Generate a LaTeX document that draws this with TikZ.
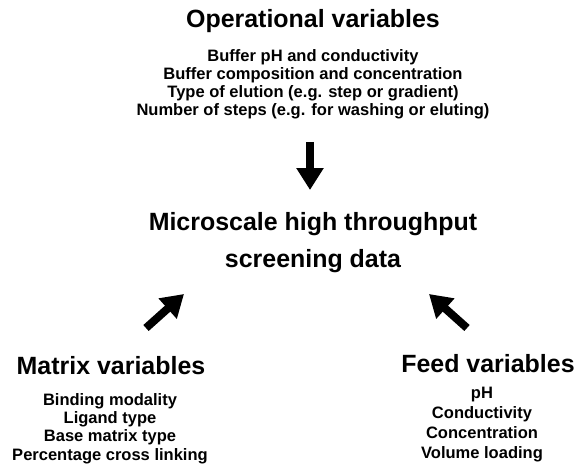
\documentclass[tikz,border=0pt]{standalone}
\usepackage{fontspec}
\setmainfont{Liberation Sans}
\usetikzlibrary{arrows.meta,positioning}

\tikzset{
    headtext/.style={font=\fontsize{14.2}{17}\selectfont\bfseries, anchor=base, inner sep=0pt},
    itemtext/.style={font=\fontsize{9.4}{11}\selectfont\bfseries, anchor=base, inner sep=0pt},
    blockarrow/.style={line width=0.16cm, -{Triangle[length=0.44cm,width=0.52cm]}}
}

\begin{document}
\begin{tikzpicture}[x=0.02cm,y=-0.02cm]

\useasboundingbox (0,0) rectangle (575,466);

\coordinate (cDownTail) at (310,142);
\coordinate (cDownTip) at (310,190);
\coordinate (cMatTail) at (146,328);
\coordinate (cMatTip) at (184,294);
\coordinate (cFeedTail) at (467,328);
\coordinate (cFeedTip) at (429,294);

% operational variables
\node[headtext] (opTitle) at (313,28) {Operational variables};
\foreach \t [count=\i] in 
{Buffer pH and conductivity,
    Buffer composition and concentration,
    Type of elution (e.g. step or gradient),
    Number of steps (e.g. for washing or eluting)
}
{
    \node[itemtext] (op\i) at (313,{62+17.7*(\i-1)}) {\t};
};

% screening data
\node[headtext] (msTop) at (313,230) {Microscale high throughput};
\node[headtext] (msBot) at (313,267) {screening data};

% matrix variables
\node[headtext] (matTitle) at (111,374) {Matrix variables};
\foreach \t [count=\i] in 
{Binding modality,
    Ligand type,
    Base matrix type,
    Percentage cross linking
}
{
    \node[itemtext] (mat\i) at (110,{405+18.4*(\i-1)}) {\t};
};

% feed variables
\node[headtext] (feedTitle) at (488,372) {Feed variables};
\foreach \t [count=\i] in 
{pH,
    Conductivity,
    Concentration,
    Volume loading
}
{
    \node[itemtext] (feed\i) at (482,{398+20*(\i-1)}) {\t};
};

\draw[blockarrow] (cDownTail) -- (cDownTip);
\draw[blockarrow] (cMatTail) -- (cMatTip);
\draw[blockarrow] (cFeedTail) -- (cFeedTip);

\end{tikzpicture}
\end{document}
